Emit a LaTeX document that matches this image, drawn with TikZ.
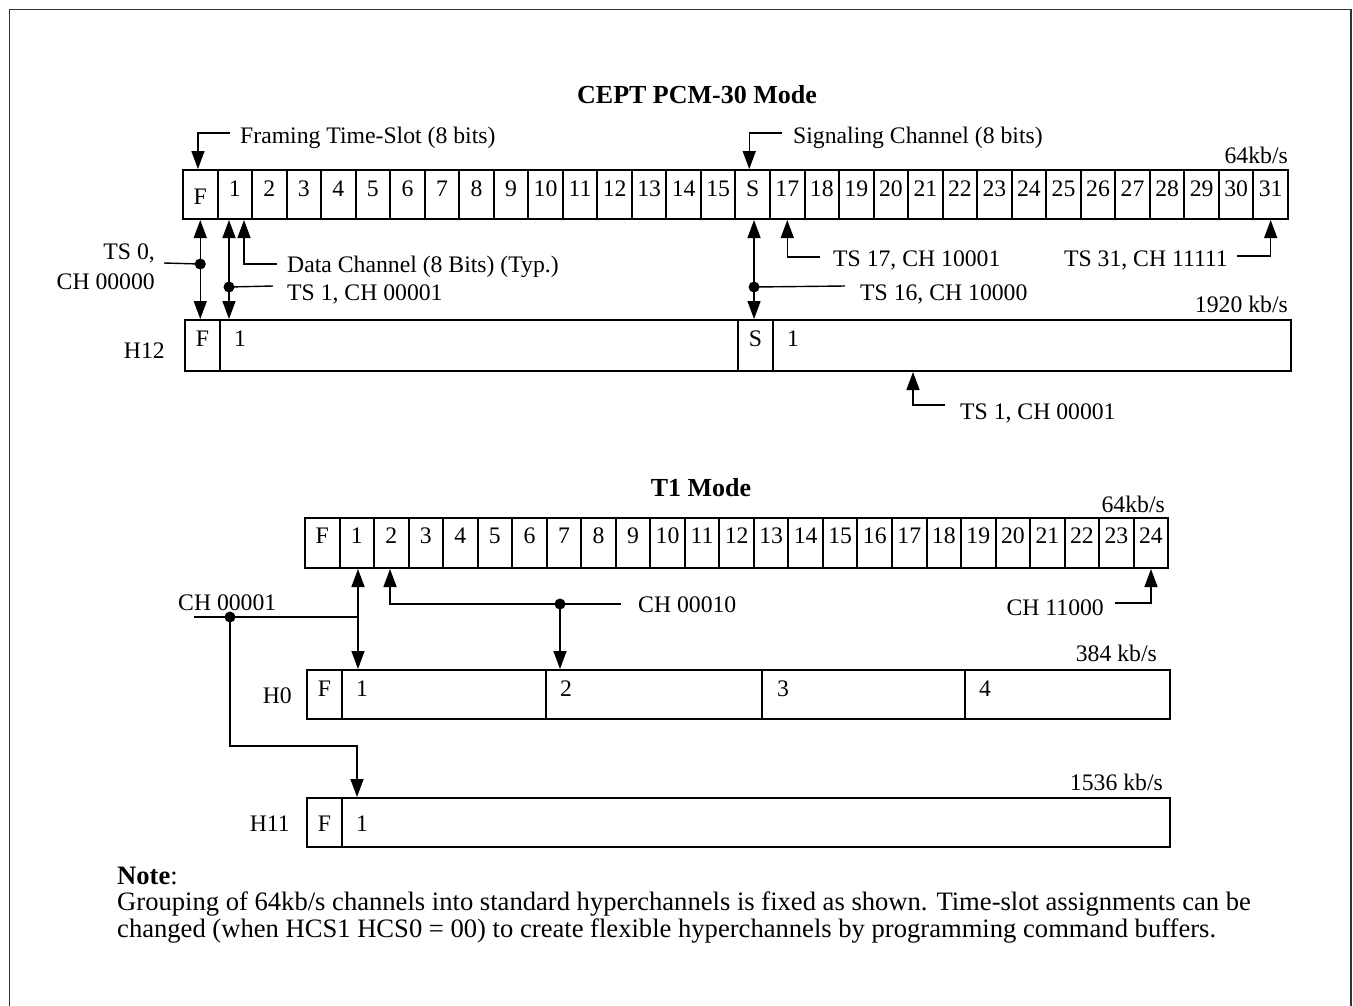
\documentclass[tikz,border=0pt]{standalone}
\usepackage{fontspec}
\setmainfont{Liberation Serif}
\usetikzlibrary{arrows.meta,calc}
\begin{document}
\begin{tikzpicture}[x=1pt,y=-1pt,
  font=\fontsize{23.7}{28}\selectfont,
  every node/.style={inner sep=0pt},
  box/.style={draw,line width=2pt,inner sep=0pt},
  cellA/.style={box,minimum width=34.53pt,minimum height=49pt,text height=16pt,text depth=13pt},
  cellAF/.style={box,minimum width=34.53pt,minimum height=49pt,text height=19pt,text depth=0pt},
  cellT/.style={box,minimum width=34.53pt,minimum height=50pt,text height=16pt,text depth=16pt},
  segH12/.style={box,minimum height=51pt,text height=16pt,text depth=15pt},
  segH0/.style={box,minimum height=49pt,text height=16pt,text depth=13pt},
  segH11/.style={box,minimum height=49pt,text height=17pt,text depth=0pt},
  lbl/.style={anchor=base west},
  lblr/.style={anchor=base east},
  lblc/.style={anchor=base},
  notetxt/.style={anchor=base west,font=\fontsize{26.6}{30}\selectfont},
  ttl/.style={anchor=base,font=\bfseries\fontsize{26}{30}\selectfont},
  conn/.style={line width=1.4pt},
  arr/.style={conn,-{Triangle[length=18pt,width=13pt]}},
  dbl/.style={conn,{Triangle[length=18pt,width=13pt]}-{Triangle[length=18pt,width=13pt]}}
]
\useasboundingbox (0,0) rectangle (1353,1005);
\draw[line width=1.6pt,black!80] (9.5,1010) -- (9.5,9.5) -- (1351,9.5) -- (1351,1010);

% ---------------- CEPT PCM-30 ----------------
\node[ttl] (title1) at (697,103) {CEPT PCM-30 Mode};
\node[cellAF] (c0) at ({183+34.53*0.5},194.5) {F};
\foreach \i in {1,...,15} \node[cellA] (c\i) at ({183+34.53*(\i+0.5)},194.5) {\i};
\node[cellA] (c16) at ({183+34.53*16.5},194.5) {S};
\foreach \i in {17,...,31} \node[cellA] (c\i) at ({183+34.53*(\i+0.5)},194.5) {\i};

\node[lbl] (lblFr) at (240,143) {Framing Time-Slot (8 bits)};
\node[lbl] (lblSig) at (793,143) {Signaling Channel (8 bits)};
\node[lblr] (rate1) at (1288,163) {64kb/s};

\node[box,minimum width=35pt,minimum height=51pt,text height=16pt,text depth=15pt] (h12F) at (202.5,345.5) {F};
\node[segH12,minimum width=518pt] (h12a) at (479,345.5) {};
\node[box,minimum width=35pt,minimum height=51pt,text height=16pt,text depth=15pt] (h12S) at (755.5,345.5) {S};
\node[segH12,minimum width=518pt] (h12b) at (1032,345.5) {};
\node[lblc] (h12at) at (240,346) {1};
\node[lblc] (h12bt) at (793,346) {1};
\node[lblr] (h12lbl) at (165,358) {H12};
\node[lblr] (rate2) at (1288,312) {1920 kb/s};

\node[lblr] (lblTS0a) at (155,259) {TS 0,};
\node[lblr] (lblTS0b) at (155,289) {CH 00000};
\node[lbl] (lblDC) at (287,272) {Data Channel (8 Bits) (Typ.)};
\node[lbl] (lblTS1) at (287,300) {TS 1, CH 00001};
\node[lbl] (lblTS16) at (860,300) {TS 16, CH 10000};
\node[lbl] (lblTS17) at (833,266) {TS 17, CH 10001};
\node[lblr] (lblTS31) at (1228,266) {TS 31, CH 11111};
\node[lbl] (lblTS1b) at (960,419) {TS 1, CH 00001};

\coordinate (eFr) at (230,133);
\coordinate (eSg) at (782,133);
\coordinate (eTS0) at (164,263);
\coordinate (eTS1) at (273,286);
\coordinate (eDC) at (277,264);
\coordinate (eTS16) at (845,286);
\coordinate (eTS17) at (820,257);
\coordinate (eTS31) at (1237,256);
\coordinate (eH12) at (945,405);

\draw[arr] (eFr) -| ([xshift=-2.3pt]c0.north);
\draw[arr] (eSg) -| ([xshift=-3.5pt]c16.north);

\draw[dbl] (c0.south) -- (c0.south |- h12F.north);
\coordinate (dF) at ($(c0.south)+(0,44)$);
\fill (dF) circle (5.5pt);
\draw[conn] (dF) -- (eTS0);

\draw[dbl] ([xshift=-5.8pt]c1.south) -- ([xshift=-5.8pt]c1.south |- h12a.north);
\coordinate (d1) at ($([xshift=-5.8pt]c1.south)+(0,67)$);
\fill (d1) circle (5.5pt);
\draw[conn] (d1) -- (eTS1);
\draw[arr] (eDC) -| ([xshift=9.2pt]c1.south);

\draw[dbl] ([xshift=1.3pt]c16.south) -- ([xshift=1.3pt]c16.south |- h12S.north);
\coordinate (d16) at ($([xshift=1.3pt]c16.south)+(0,67)$);
\fill (d16) circle (5.5pt);
\draw[conn] (d16) -- (eTS16);

\draw[arr] (eTS17) -| (c17.south);
\draw[arr] (eTS31) -| (c31.south);
\draw[arr] (eH12) -| ([xshift=141pt]h12b.south west);

% ---------------- T1 ----------------
\node[ttl] (title2) at (701,496) {T1 Mode};
\node[lblr] (rate3) at (1165,512) {64kb/s};
\node[cellT] (t0) at ({305+34.53*0.5},543) {F};
\foreach \i in {1,...,24} \node[cellT] (t\i) at ({305+34.53*(\i+0.5)},543) {\i};

\node[segH0,minimum width=35pt] (h0F) at (324.5,694.5) {F};
\node[segH0,minimum width=204pt] (h0a) at (444,694.5) {};
\node[segH0,minimum width=216pt] (h0b) at (654,694.5) {};
\node[segH0,minimum width=203pt] (h0c) at (863.5,694.5) {};
\node[segH0,minimum width=205pt] (h0d) at (1067.5,694.5) {};
\node[lblc] (h0at) at (362,696) {1};
\node[lblc] (h0bt) at (566,696) {2};
\node[lblc] (h0ct) at (783,696) {3};
\node[lblc] (h0dt) at (985,696) {4};
\node[lblr] (h0lbl) at (292,703) {H0};
\node[lblr] (rate4) at (1157,661) {384 kb/s};

\node[segH11,minimum width=35pt] (h11F) at (324.5,822.5) {F};
\node[segH11,minimum width=828pt] (h11a) at (756,822.5) {};
\node[lblc] (h11at) at (362,831) {1};
\node[lblr] (h11lbl) at (290,831) {H11};
\node[lblr] (rate5) at (1163,790) {1536 kb/s};

\node[lbl] (lblCH1) at (178,610) {CH 00001};
\node[lbl] (lblCH2) at (638,612) {CH 00010};
\node[lblr] (lblCH24) at (1104,615) {CH 11000};

\coordinate (eCH1) at (194,617);
\coordinate (dCH1) at (230,617);
\coordinate (bCH1) at (230,746);
\coordinate (dCH2) at (560,604);
\coordinate (eCH2) at (621,604);
\coordinate (eCH24) at (1115,603);
\coordinate (j1) at ([xshift=1.2pt]t1.south);

\draw[dbl] (j1) -- (j1 |- h0a.north);
\draw[conn] (eCH1) -- (eCH1 -| j1);
\fill (dCH1) circle (5.5pt);
\draw[arr] (dCH1) -- (bCH1) -| ([xshift=16pt]h11a.north west);

\draw[arr] (dCH2) -| ([xshift=-1.3pt]t2.south);
\fill (dCH2) circle (5.5pt);
\draw[conn] (dCH2) -- (eCH2);
\draw[arr] (dCH2) -- (dCH2 |- h0b.north);

\draw[arr] (eCH24) -| (t24.south);

% ---------------- Note ----------------
\node[notetxt] (note0) at (117,884) {\textbf{Note}:};
\node[notetxt] (note1) at (117,910) {Grouping of 64kb/s channels into standard hyperchannels is fixed as shown. Time-slot assignments can be};
\node[notetxt] (note2) at (117,937) {changed (when HCS1 HCS0 = 00) to create flexible hyperchannels by programming command buffers.};
\end{tikzpicture}
\end{document}
